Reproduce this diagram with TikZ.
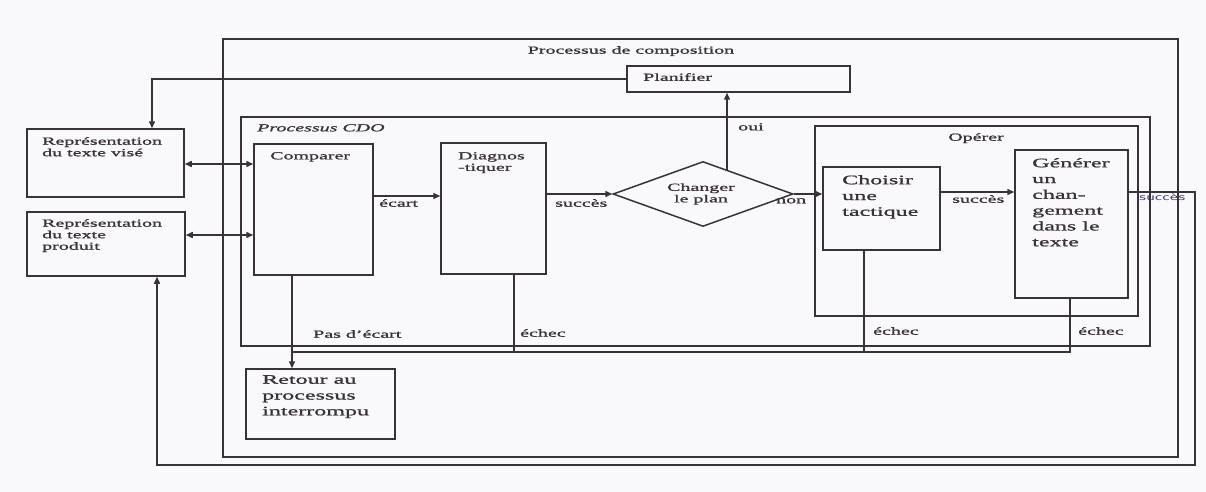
\documentclass[tikz,border=0pt]{standalone}
\usepackage{fontspec}
\setmainfont{Liberation Serif}[FakeStretch=1.85,FakeBold=1.2]
\newfontfamily\handfont{DejaVu Sans}[FakeStretch=1.6]
\usetikzlibrary{arrows.meta,fit,shapes.geometric}
\definecolor{ink}{RGB}{58,50,58}
\definecolor{handink}{RGB}{60,50,110}
\definecolor{paper}{RGB}{249,249,251}
\tikzset{
  ln/.style={draw=ink, line width=1.5pt},
  box/.style={draw=ink, line width=1.5pt, rectangle, inner sep=0pt},
  arr/.style={ln, -{Triangle[length=7pt,width=6pt]}},
  darr/.style={ln, {Triangle[length=7pt,width=6pt]}-{Triangle[length=7pt,width=6pt]}},
  sm/.style={font=\fontsize{10.8}{11.5}\selectfont, text=ink, inner sep=0pt, align=left},
  smi/.style={font=\fontsize{10.8}{11.5}\selectfont\itshape, text=ink, inner sep=0pt, align=left},
  lg/.style={font=\fontsize{13}{15.8}\selectfont, text=ink, inner sep=0pt, align=left},
  hw/.style={font=\fontsize{8.5}{9}\selectfont\handfont, text=handink, inner sep=0pt},
}
\begin{document}
\begin{tikzpicture}[x=1pt,y=-1pt]
\useasboundingbox (0,0) rectangle (1206,492);
\fill[paper] (0,0) rectangle (1206,492);

% containers
\node[box, fit={(223,39) (1178,457)}] (outer) {};
\node[box, fit={(241,117) (1150,346)}] (cdo) {};
\node[box, fit={(815,126) (1138,316)}] (oper) {};

% boxes
\node[box, fit={(627,66) (850,92)}] (plan) {};
\node[box, fit={(27,129) (184,197)}] (vise) {};
\node[box, fit={(27,212) (185,276)}] (prod) {};
\node[box, fit={(254,144) (373,275)}] (comp) {};
\node[box, fit={(441,143) (546,274)}] (diag) {};
\node[box, fit={(823,167) (940,250)}] (chois) {};
\node[box, fit={(1015,150) (1128,298)}] (gen) {};
\node[box, fit={(246,369) (395,439)}] (ret) {};
\node[draw=ink, line width=1.5pt, diamond, aspect=2.77, minimum width=180pt, minimum height=65pt, inner sep=0pt] (dmd) at (703,194) {};

% texts
\node[sm, anchor=north] (tcomp) at (631,46) {Processus de composition};
\node[sm, anchor=north west] (tplan) at (643,73) {Planifier};
\node[smi, anchor=north west] (tcdo) at (257,124) {Processus CDO};
\node[sm, anchor=north west] (tvise) at (42,137) {Représentation\\du texte visé};
\node[sm, anchor=north west] (tprod) at (42,219) {Représentation\\du texte\\produit};
\node[sm, anchor=north west] (tcompa) at (270,152) {Comparer};
\node[sm, anchor=north west] (tdiag) at (458,152) {Diagnos\\-tiquer};
\node[sm, align=center] (tdmd) at (701,194) {Changer\\le plan};
\node[sm, anchor=north] (toper) at (976,133) {Opérer};
\node[lg, anchor=north west] (tchois) at (842,175) {Choisir\\une\\tactique};
\node[lg, anchor=north west] (tgen) at (1032,158) {Générer\\un\\chan-\\gement\\dans le\\texte};
\node[lg, anchor=north west] (tret) at (262,375) {Retour au\\processus\\interrompu};

\node[sm, anchor=north west] (lecart) at (379,199) {écart};
\node[sm, anchor=north west] (lsucc1) at (555,199) {succès};
\node[sm, anchor=north west] (loui) at (738,123) {oui};
\node[sm, anchor=north west] (lnon) at (776,198) {non};
\node[sm, anchor=north west] (lsucc2) at (952,195) {succès};
\node[hw, anchor=north west] (lsucc3) at (1139,194) {succès};
\node[sm, anchor=north west] (lpas) at (313,330) {Pas d'écart};
\node[sm, anchor=north west] (lech1) at (520,329) {échec};
\node[sm, anchor=north west] (lech2) at (873,327) {échec};
\node[sm, anchor=north west] (lech3) at (1078,327) {échec};

% coordinates
\coordinate (c1) at (152,79);
\coordinate (a1) at (210,164);
\coordinate (a2) at (210,235);
\coordinate (e1) at (400,196);
\coordinate (o1) at (727,171);
\coordinate (s2) at (980,192);
\coordinate (r1) at (1195,192);
\coordinate (r2) at (1195,465);
\coordinate (r3) at (157,465);
\coordinate (p1) at (292,352);
\coordinate (j1) at (514,352);
\coordinate (j2) at (864,352);
\coordinate (j3) at (1070,352);

% connectors
\draw[arr] (plan.west) -- (c1) -- (vise.north -| c1);
\draw[darr] (vise.east |- a1) -- (comp.west |- a1);
\draw[darr] (prod.east |- a2) -- (comp.west |- a2);
\draw[arr] (comp.east |- e1) -- (diag.west |- e1);
\draw[arr] (diag.east |- dmd.west) -- (dmd.west);
\draw[arr] (o1) -- (plan.south -| o1);
\draw[arr] (dmd.east) -- (chois.west |- dmd.east);
\draw[arr] (chois.east |- s2) -- (gen.west |- s2);
\draw[arr] (gen.east |- s2) -- (r1) -- (r2) -- (r3) -- (prod.south -| r3);
\draw[arr] (comp.south -| p1) -- (ret.north -| p1);
\draw[ln] (diag.south -| j1) -- (j1);
\draw[ln] (chois.south -| j2) -- (j2);
\draw[ln] (gen.south -| j3) -- (j3) -- (p1);
\end{tikzpicture}
\end{document}
